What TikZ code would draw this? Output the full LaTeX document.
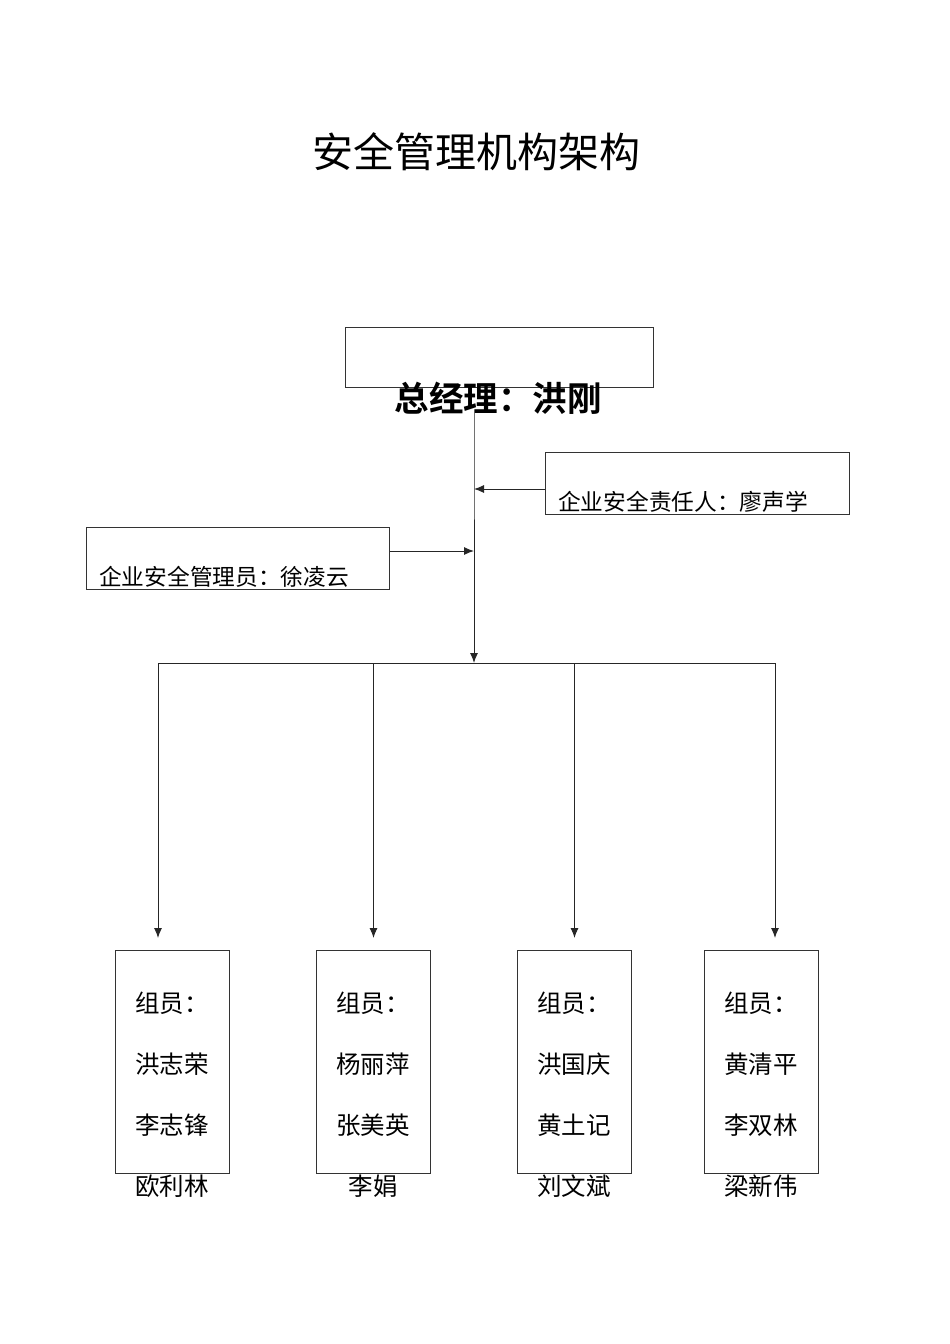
\documentclass[tikz,border=0pt]{standalone}
\usepackage{fontspec}
\setmainfont{Noto Sans CJK SC}
\newfontfamily\cjk{Noto Sans CJK SC}
\newfontfamily\cjkbold{Noto Sans CJK SC Bold}
\usetikzlibrary{arrows.meta}
\tikzset{
  box/.style={draw=black!80, line width=1pt},
  conn/.style={draw=black!85, line width=1pt},
  arr/.style={conn, -{Latex[length=10pt,width=8pt]}},
  txt/.style={inner sep=0pt, anchor=base west, font=\cjk\fontsize{22.7}{24}\selectfont},
  mem/.style={inner sep=0pt, anchor=base west, font=\cjk\fontsize{24.5}{26}\selectfont},
}
\begin{document}
\begin{tikzpicture}[x=1pt,y=-1pt]
\useasboundingbox (0,0) rectangle (950,1344);
% title
\node[inner sep=0pt, anchor=base, font=\cjk\fontsize{41}{44}\selectfont] (title) at (476,167) {安全管理机构架构};
% top
\node[box, minimum width=308pt, minimum height=60pt, anchor=north west] (topbox) at (345,327) {};
\node[inner sep=0pt, anchor=base, font=\cjkbold\fontsize{34.5}{36}\selectfont] (gm) at (498,411) {总经理：洪刚};
% side boxes
\node[box, minimum width=304pt, minimum height=62pt, anchor=north west] (resp) at (545,452) {};
\node[txt] (resptxt) at (558,510) {企业安全责任人：廖声学};
\node[box, minimum width=303pt, minimum height=62pt, anchor=north west] (mgr) at (86,527) {};
\node[txt] (mgrtxt) at (99,585) {企业安全管理员：徐凌云};
% junctions
\coordinate (top) at (474,413);
\coordinate (j1) at (474,489);
\coordinate (j2) at (474,551);
\coordinate (hub) at (474,663);
\coordinate (hl) at (158,663);
\coordinate (hr) at (775,663);
\draw[conn] (top) -- (j1) -- (j2);
\draw[arr] (j2) -- (hub);
\draw[arr] (resp.west |- j1) -- (j1);
\draw[arr] (mgr.east |- j2) -- (j2);
\draw[conn] (hl) -- (hr);
% member boxes
\foreach \n/\x/\tx/\a/\b/\c in {
  g1/115/135/洪志荣/李志锋/欧利林,
  g2/316/336/杨丽萍/张美英/{},
  g3/517/537/洪国庆/黄土记/刘文斌,
  g4/704/724/黄清平/李双林/梁新伟}{
  \node[box, minimum width=114pt, minimum height=223pt, anchor=north west] (\n) at (\x,950) {};
  \node[mem] (\n a) at (\tx,1012) {组员：};
  \node[mem] (\n b) at (\tx,1073) {\a};
  \node[mem] (\n c) at (\tx,1134) {\b};
  \node[mem] (\n d) at (\tx,1195) {\c};
}
\node[inner sep=0pt, anchor=base, font=\cjk\fontsize{24.5}{26}\selectfont] (g2e) at (373,1195) {李娟};
\draw[arr] (hl) -- ([yshift=12pt]hl |- g1.north);
\draw[arr] (g2.north |- hl) -- ([yshift=12pt]g2.north);
\draw[arr] (g3.north |- hl) -- ([yshift=12pt]g3.north);
\draw[arr] (hr) -- ([yshift=12pt]hr |- g4.north);
\end{tikzpicture}
\end{document}
